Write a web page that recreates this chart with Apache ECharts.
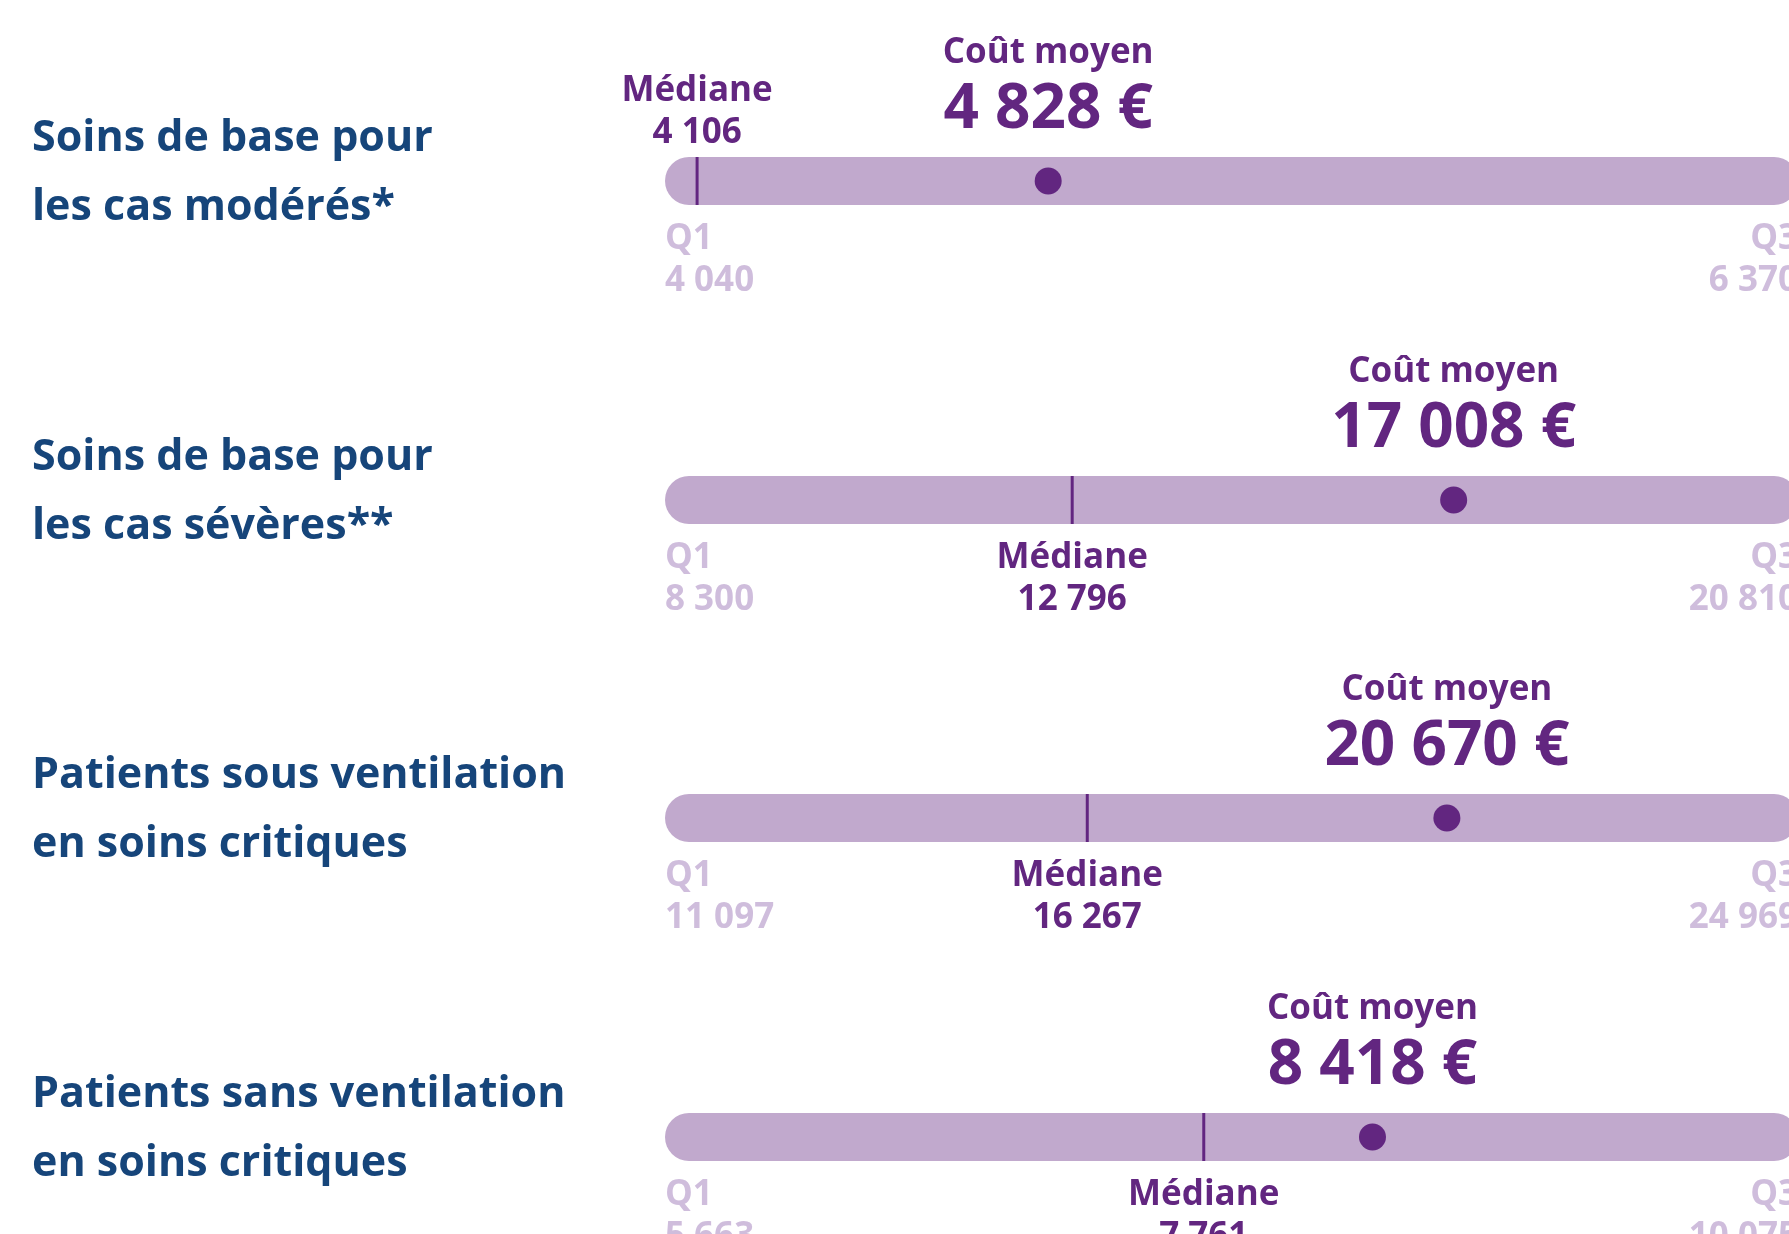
<!DOCTYPE html>
<html>
<head>
<meta charset="utf-8">
<script src="https://cdn.jsdelivr.net/npm/echarts@6/dist/echarts.min.js"></script>
<style>
  html, body { margin: 0; padding: 0; background: #fff; }
  #chart { width: 1789px; height: 1234px; }
</style>
</head>
<body>
<div id="chart"></div>
<script>
// données
const categories = [
  'Soins de base pour\nles cas modérés*',
  'Soins de base pour\nles cas sévères**',
  'Patients sous ventilation\nen soins critiques',
  'Patients sans ventilation\nen soins critiques'
];
const q1Values = [4040, 8300, 11097, 5663];
const q3Values = [6370, 20810, 24969, 10075];
const medianValues = [4106, 12796, 16267, 7761];
const meanValues = [4828, 17008, 20670, 8418];

const FONT = 'Open Sans';
const BLUE = '#16457a';
const PURPLE = '#622680';
const BAR = '#c1a9cd';
const LIGHT = '#c3acd3';
const rowCenters = [181, 500, 818, 1137];

const fmt = v => String(v).replace(/\B(?=(\d{3})+(?!\d))/g, ' ');

const smallRich = {
  a: { fontFamily: FONT, fontWeight: 'bold', fontSize: 35, lineHeight: 42 },
  b: { fontFamily: FONT, fontWeight: 'bold', fontSize: 35, lineHeight: 42 }
};

const chart = echarts.init(document.getElementById('chart'));
const title = [], grid = [], xAxis = [], yAxis = [], series = [];

categories.forEach((name, i) => {
  const q1 = q1Values[i], q3 = q3Values[i];
  const med = medianValues[i], mean = meanValues[i];
  // étiquette de la médiane au-dessus si trop proche de Q1
  const medAbove = (med - q1) / (q3 - q1) < 0.1;

  // libellé de la ligne
  title.push({
    text: name,
    left: 32,
    top: rowCenters[i] - 77,
    padding: 0,
    textStyle: {
      color: BLUE,
      fontFamily: FONT,
      fontWeight: 'bold',
      fontSize: 43,
      lineHeight: 69
    }
  });

  grid.push({
    left: 665, width: 1133, top: rowCenters[i] - 24, height: 48,
    outerBoundsMode: 'none'
  });
  xAxis.push({ type: 'value', gridIndex: i, min: q1, max: q3, show: false });
  yAxis.push({ type: 'category', gridIndex: i, data: [name], show: false });

  // barre Q1 -> Q3
  series.push({
    type: 'custom',
    xAxisIndex: i,
    yAxisIndex: i,
    silent: true,
    clip: false,
    z: 1,
    encode: { x: [0, 2], y: 1 },
    data: [[q1, name, q3]],
    renderItem (params, api) {
      const start = api.coord([api.value(0), 0]);
      const end = api.coord([api.value(2), 0]);
      return {
        type: 'rect',
        shape: { x: start[0], y: start[1] - 24, width: end[0] - start[0], height: 48, r: 24 },
        style: { fill: BAR }
      };
    }
  });

  // médiane
  series.push({
    type: 'scatter',
    xAxisIndex: i,
    yAxisIndex: i,
    silent: true,
    z: 3,
    symbol: 'rect',
    symbolSize: [3, 48],
    itemStyle: { color: PURPLE, opacity: 1 },
    data: [[med, name]],
    label: {
      show: true,
      position: medAbove ? 'top' : 'bottom',
      distance: medAbove ? 3 : 13,
      color: PURPLE,
      formatter: '{a|Médiane}\n{b|' + fmt(med) + '}',
      rich: smallRich
    }
  });

  // Q1 et Q3
  [[q1, 'Q1', 'left'], [q3, 'Q3', 'right']].forEach(([v, t, al]) => {
    series.push({
      type: 'scatter',
      xAxisIndex: i,
      yAxisIndex: i,
      silent: true,
      z: 2,
      symbol: 'rect',
      symbolSize: [1, 48],
      itemStyle: { color: 'rgba(0,0,0,0)' },
      data: [[v, name]],
      label: {
        show: true,
        position: 'bottom',
        distance: 13,
        align: al,
        color: LIGHT,
        formatter: '{a|' + t + '}\n{b|' + fmt(v) + '}',
        rich: smallRich
      }
    });
  });

  // coût moyen
  series.push({
    type: 'scatter',
    xAxisIndex: i,
    yAxisIndex: i,
    silent: true,
    z: 4,
    symbolSize: 27,
    itemStyle: { color: PURPLE, opacity: 1 },
    data: [[mean, name]],
    label: {
      show: true,
      position: 'top',
      distance: 31,
      color: PURPLE,
      formatter: '{a|Coût moyen}\n{b|' + fmt(mean) + ' €}',
      rich: {
        a: { fontFamily: FONT, fontWeight: 'bold', fontSize: 35, lineHeight: 62 },
        b: { fontFamily: FONT, fontWeight: 'bold', fontSize: 62, lineHeight: 52 }
      }
    }
  });
});

chart.setOption({
  animation: false,
  backgroundColor: '#fff',
  title,
  grid,
  xAxis,
  yAxis,
  series
});
</script>
</body>
</html>
